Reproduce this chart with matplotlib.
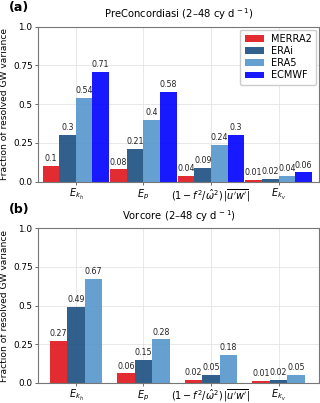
import matplotlib
matplotlib.use("Agg")
import matplotlib.pyplot as plt
import numpy as np

categories = [r"$E_{k_h}$", r"$E_p$", r"$(1-f^2/\hat{\omega}^2)\,|\overline{u'w'}|$", r"$E_{k_v}$"]

series_a = ["MERRA2", "ERAi", "ERA5", "ECMWF"]
merra2_a = [0.10, 0.08, 0.04, 0.01]
erai_a = [0.30, 0.21, 0.09, 0.02]
era5_a = [0.54, 0.40, 0.24, 0.04]
ecmwf_a = [0.71, 0.58, 0.30, 0.06]

series_b = ["MERRA2", "ERAi", "ERA5"]
merra2_b = [0.27, 0.06, 0.02, 0.01]
erai_b = [0.49, 0.15, 0.05, 0.02]
era5_b = [0.67, 0.28, 0.18, 0.05]

yticks = [0.0, 0.25, 0.5, 0.75, 1.0]
ytick_labels = ["0.0", "0.25", "0.5", "0.75", "1.0"]

colors = {"MERRA2": "#e0141c", "ERAi": "#1b4f80", "ERA5": "#5596cc", "ECMWF": "#0000ff"}

plt.rcParams['font.family'] = ['DejaVu Sans']
plt.rcParams['mathtext.fontset'] = 'dejavusans'

fig = plt.figure(figsize=(3.2, 4.03), dpi=100)
ax_a = fig.add_axes([0.119, 0.549, 0.878, 0.385])
ax_b = fig.add_axes([0.119, 0.0504, 0.878, 0.383])


def draw(ax, names, data, width, title, label, legend):
    x = np.arange(len(categories))
    n = len(names)
    for j, (name, vals) in enumerate(zip(names, data)):
        pos = x + (j - (n - 1) / 2) * width
        bars = ax.bar(pos, vals, width, color=colors[name], alpha=0.9, label=name, zorder=2)
        for b, v in zip(bars, vals):
            ax.text(b.get_x() + b.get_width() / 2, v + 0.018, f"{v:g}", ha="center", va="bottom",
                    fontsize=5.7, color="#222222", zorder=3)
    ax.set_xlim(-0.56, 3.6)
    ax.set_ylim(0, 1.0)
    ax.set_yticks(yticks)
    ax.set_yticklabels(ytick_labels, fontsize=6.4)
    ax.set_xticks(x)
    ax.set_xticklabels(categories, fontsize=7)
    ax.tick_params(length=2.5, width=0.6, color="#555555", pad=1.5)
    ax.grid(True, color="#e4e4e4", linewidth=0.6, zorder=0)
    ax.set_axisbelow(True)
    for s in ax.spines.values():
        s.set_color("#777777")
        s.set_linewidth(0.8)
    ax.set_ylabel("Fraction of resolved GW variance", fontsize=6.6, labelpad=3)
    ax.set_title(title, fontsize=7.2, pad=6)
    ax.text(-0.105, 1.12, label, transform=ax.transAxes, fontsize=9, fontweight="bold",
            ha="left", va="center")
    if legend:
        ax.legend(loc="upper right", fontsize=7.0, frameon=True, handlelength=2.0,
                  handletextpad=0.7, borderpad=0.45, labelspacing=0.22, framealpha=1,
                  edgecolor="#cccccc", fancybox=True, borderaxespad=0.3)


draw(ax_a, series_a, [merra2_a, erai_a, era5_a, ecmwf_a], 0.245,
     r"PreConcordiasi (2–48 cy d$^{\,-1}$)", "(a)", True)
draw(ax_b, series_b, [merra2_b, erai_b, era5_b], 0.26,
     r"Vorcore (2–48 cy d$^{\,-1}$)", "(b)", False)

fig.savefig("out.png", dpi=100)
